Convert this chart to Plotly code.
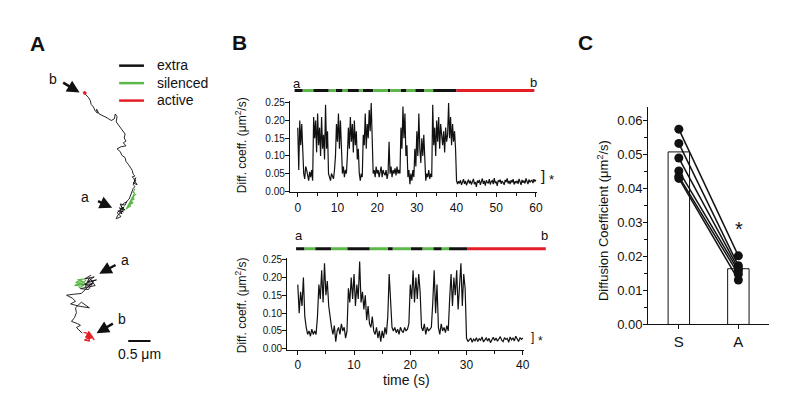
import plotly.graph_objects as go

FONT = "Liberation Sans, Arial, Helvetica, sans-serif"
OFF = 8                      # page body margin of the browser
W, H = 800 - 2 * OFF, 420 - 2 * OFF
BLACK, GREEN, RED = "#111111", "#5cb848", "#e41e26"

# ---------------- Panel A: trajectories (micrometres) ----------------
trajA_black_x = [1.91,1.98,2.02,2.04,2.09,2.13,2.18,2.16,2.22,2.31,2.40,2.49,2.56,2.58,2.62,2.60,2.64,2.71,2.76,2.80,
                 2.78,2.82,2.76,2.82,2.71,2.62,2.69,2.73,2.80,2.82,2.87,2.91,2.96,2.98,3.02,2.96,3.04,2.98,3.07,3.00,
                 3.04,2.98,3.02,2.98,2.93,2.89,2.82,2.78,2.71,2.80,2.67,2.76,2.64,2.73,2.69,2.78,2.62,2.71,2.60,2.64,
                 2.76,2.69,2.80,2.84]
trajA_black_y = [7.27,7.20,7.13,7.04,6.98,6.89,6.84,6.93,6.82,6.78,6.73,6.67,6.71,6.82,6.76,6.64,6.58,6.49,6.42,6.36,
                 6.27,6.20,6.16,6.09,6.07,6.02,5.96,5.87,5.82,5.73,5.67,5.60,5.53,5.44,5.40,5.38,5.29,5.24,5.20,5.31,
                 5.36,5.20,5.16,5.11,4.98,4.87,4.80,4.78,4.71,4.62,4.67,4.58,4.60,4.53,4.64,4.69,4.56,4.47,4.42,4.51,
                 4.60,4.76,4.73,4.82]
trajA_green_x = [3.02,2.98,3.04,2.96,3.00,2.91,2.98,2.87,2.93,2.84,2.91,3.00,2.96,2.89,2.82,2.93,3.02]
trajA_green_y = [5.11,5.02,4.98,4.91,4.87,4.82,4.78,4.73,4.71,4.67,4.76,4.93,4.82,4.69,4.64,4.87,5.02]
trajA_red_x = [1.87,1.91,1.89,1.93,1.87,1.91,1.89]
trajA_red_y = [7.33,7.27,7.31,7.29,7.29,7.33,7.27]

trajB_black_x = [2.04,1.89,2.11,1.96,2.16,1.84,2.07,1.91,2.00,2.13,1.80,1.98,2.09,1.87,1.93,1.82,1.64,1.49,1.62,1.69,
                 1.58,1.76,2.00,1.82,1.69,1.71,1.67,1.60,1.73,1.80,1.71,1.78,1.84]
trajB_black_y = [3.13,3.04,3.09,2.98,3.02,2.91,2.93,2.87,3.07,2.89,2.82,2.80,2.98,2.76,2.84,2.71,2.69,2.67,2.60,2.53,
                 2.47,2.42,2.38,2.51,2.38,2.27,2.16,2.07,2.02,1.98,1.93,1.87,1.80]
trajB_green_x = [1.73,1.87,1.69,1.91,1.76,1.84,1.67,1.89,1.78,1.71,1.82,1.93]
trajB_green_y = [3.02,3.04,2.96,2.98,2.91,3.00,2.89,2.91,2.84,2.98,2.93,3.02]
trajB_red_x = [1.87,2.04,1.91,2.09,1.96,2.00,1.89,2.07,1.93,2.02,1.98,2.11]
trajB_red_y = [1.82,1.78,1.71,1.69,1.80,1.62,1.64,1.73,1.76,1.67,1.84,1.64]

scalebar_start = 2.87
scalebar_len = 0.5
scalebar_y = 1.62

legend_names = ["extra", "silenced", "active"]

# ---------------- Panel B: diffusion coefficient traces ----------------
dt = 0.25
top_diff = [
    0.18,0.06,0.20,0.13, 0.19,0.10,0.05,0.035, 0.07,0.06,0.045,0.03, 0.055,0.04,0.06,0.03,
    0.21,0.15,0.20,0.11, 0.22,0.13,0.18,0.10, 0.21,0.12,0.16,0.09, 0.245,0.12,0.17,0.05,
    0.04,0.03,0.05,0.04, 0.035,0.06,0.10,0.19, 0.14,0.22,0.12,0.20, 0.10,0.05,0.07,0.04,
    0.06,0.05,0.10,0.18, 0.12,0.21,0.14,0.19, 0.11,0.20,0.13,0.17, 0.09,0.12,0.05,0.03,
    0.05,0.04,0.16,0.13, 0.22,0.12,0.19,0.15, 0.23,0.17,0.25,0.14, 0.05,0.06,0.04,0.07,
    0.05,0.06,0.04,0.055, 0.07,0.04,0.06,0.05, 0.045,0.06,0.035,0.05, 0.14,0.05,0.07,0.04,
    0.06,0.05,0.065,0.045, 0.07,0.05,0.06,0.05, 0.18,0.12,0.24,0.15, 0.22,0.10,0.13,0.04,
    0.06,0.02,0.05,0.03, 0.06,0.04,0.12,0.07, 0.17,0.10,0.22,0.12, 0.08,0.15,0.10,0.16,
    0.09,0.03,0.05,0.04, 0.06,0.035,0.05,0.04, 0.245,0.13,0.18,0.10, 0.20,0.14,0.21,0.12,
    0.19,0.15,0.13,0.17, 0.11,0.18,0.14,0.16, 0.25,0.15,0.21,0.13, 0.19,0.14,0.17,0.12,
    0.03,0.02,0.028,0.022, 0.031,0.018,0.026,0.034, 0.021,0.029,0.017,0.027, 0.033,0.022,0.03,0.019,
    0.028,0.035,0.02,0.026, 0.012,0.03,0.024,0.032, 0.018,0.027,0.036,0.021, 0.029,0.016,0.031,0.025,
    0.022,0.034,0.019,0.028, 0.03,0.02,0.037,0.023, 0.027,0.015,0.031,0.026, 0.033,0.021,0.029,0.024,
    0.018,0.032,0.026,0.036, 0.022,0.029,0.02,0.031, 0.025,0.034,0.019,0.028, 0.023,0.03,0.021,0.035,
    0.027,0.018,0.032,0.024, 0.03,0.022,0.036,0.026, 0.02,0.033,0.025,0.029, 0.031,0.023,0.034,0.028,
    0.032]
bot_diff = [
    0.18,0.10,0.16,0.12, 0.20,0.09,0.06,0.04, 0.05,0.035,0.055,0.04, 0.05,0.04,0.09,0.18,
    0.14,0.22,0.13,0.24, 0.15,0.19,0.12,0.08, 0.06,0.04,0.065,0.02, 0.05,0.06,0.04,0.07,
    0.05,0.06,0.03,0.05, 0.17,0.13,0.20,0.14, 0.21,0.12,0.18,0.14, 0.245,0.13,0.16,0.11,
    0.15,0.08,0.12,0.07, 0.06,0.09,0.05,0.04, 0.06,0.03,0.05,0.02, 0.05,0.03,0.06,0.04,
    0.09,0.21,0.15,0.06, 0.05,0.06,0.045,0.055, 0.04,0.06,0.05,0.045, 0.06,0.05,0.055,0.07,
    0.18,0.14,0.22,0.13, 0.20,0.14,0.21,0.16, 0.06,0.05,0.07,0.04, 0.06,0.05,0.055,0.06,
    0.13,0.22,0.10,0.18, 0.06,0.04,0.07,0.05, 0.06,0.045,0.065,0.05, 0.14,0.21,0.12,0.20,
    0.15,0.22,0.11,0.18, 0.24,0.12,0.21,0.17, 0.03,0.02,0.025,0.03, 0.018,0.027,0.022,0.031,
    0.02,0.028,0.024,0.033, 0.019,0.026,0.03,0.022, 0.029,0.017,0.027,0.032, 0.023,0.03,0.021,0.028,
    0.034,0.024,0.02,0.031, 0.026,0.029,0.018,0.033, 0.025,0.03,0.022,0.035, 0.027,0.02,0.031,0.026,
    0.03]
top_time = [i * dt for i in range(len(top_diff))]
bot_time = [i * dt for i in range(len(bot_diff))]

top_seg_edges = [-0.8, 1.25, 3.9, 7.8, 9.6, 11.3, 12.5, 15.4, 16.4, 19.0, 22.7, 23.3, 25.9, 27.4, 29.6, 31.9, 34.1, 40.0, 59.6]
top_seg_state = ["extra","silenced","extra","silenced","extra","silenced","extra","silenced","extra",
                 "silenced","extra","silenced","extra","silenced","extra","silenced","extra","active"]
bot_seg_edges = [-0.3, 1.2, 3.1, 5.9, 8.8, 12.8, 16.0, 16.9, 20.1, 22.2, 24.1, 25.6, 26.9, 30.1, 44.1]
bot_seg_state = ["extra","silenced","extra","silenced","extra","silenced","extra","silenced","extra",
                 "silenced","extra","silenced","extra","active"]

# ---------------- Panel C ----------------
conditions = ["S", "A"]
bar_means = [0.0508, 0.0164]
cell_S = [0.0575, 0.0533, 0.0490, 0.0452, 0.0436, 0.0430]
cell_A = [0.0202, 0.0173, 0.0165, 0.0158, 0.0148, 0.0131]

state_color = {"extra": BLACK, "silenced": GREEN, "active": RED}


def px(x):
    return (x - OFF) / W


def py(y):
    return 1 - (y - OFF) / H


fig = go.Figure()

# Panel A trajectories
for xs, ys, col, w in [
    (trajA_black_x, trajA_black_y, BLACK, 0.9), (trajA_green_x, trajA_green_y, GREEN, 1.1),
    (trajA_red_x, trajA_red_y, RED, 2.2),
    (trajB_black_x, trajB_black_y, BLACK, 0.9), (trajB_green_x, trajB_green_y, GREEN, 1.1),
    (trajB_red_x, trajB_red_y, RED, 1.3)]:
    fig.add_trace(go.Scatter(x=xs, y=ys, mode="lines", line=dict(color=col, width=w),
                             xaxis="x", yaxis="y", showlegend=False, hoverinfo="skip"))
# scale bar
fig.add_trace(go.Scatter(x=[scalebar_start, scalebar_start + scalebar_len], y=[scalebar_y, scalebar_y],
                         mode="lines", line=dict(color=BLACK, width=2), xaxis="x", yaxis="y",
                         showlegend=False, hoverinfo="skip"))


def seg_trace(edges, states, state, xa, ya):
    xs, ys = [], []
    for i, s in enumerate(states):
        if s == state:
            xs += [edges[i], edges[i + 1], None]
            ys += [0.5, 0.5, None]
    return go.Scatter(x=xs, y=ys, mode="lines", line=dict(color=state_color[state], width=3),
                      xaxis=xa, yaxis=ya, showlegend=False, hoverinfo="skip")


# Panel B top
fig.add_trace(go.Scatter(x=top_time, y=top_diff, mode="lines", line=dict(color=BLACK, width=1.2),
                         xaxis="x2", yaxis="y2", showlegend=False))
for st in ["extra", "silenced", "active"]:
    fig.add_trace(seg_trace(top_seg_edges, top_seg_state, st, "x2", "y5"))
# Panel B bottom
fig.add_trace(go.Scatter(x=bot_time, y=bot_diff, mode="lines", line=dict(color=BLACK, width=1.2),
                         xaxis="x3", yaxis="y3", showlegend=False))
for st in ["extra", "silenced", "active"]:
    fig.add_trace(seg_trace(bot_seg_edges, bot_seg_state, st, "x6", "y6"))

# Panel C
fig.add_trace(go.Bar(x=conditions, y=bar_means, width=0.36,
                     marker=dict(color="white", line=dict(color=BLACK, width=1)),
                     xaxis="x4", yaxis="y4", showlegend=False))
pair_x, pair_y = [], []
for s_val, a_val in zip(cell_S, cell_A):
    pair_x += [conditions[0], conditions[1], None]
    pair_y += [s_val, a_val, None]
fig.add_trace(go.Scatter(x=pair_x, y=pair_y, mode="lines+markers", line=dict(color=BLACK, width=1.5),
                         marker=dict(color=BLACK, size=9), xaxis="x4", yaxis="y4", showlegend=False))

axis_common = dict(showline=True, linecolor=BLACK, linewidth=1, ticks="outside", tickcolor=BLACK,
                   ticklen=4, showgrid=False, zeroline=False, fixedrange=True)

fig.update_layout(
    width=W, height=H, margin=dict(l=0, r=0, t=0, b=0),
    paper_bgcolor="white", plot_bgcolor="white",
    font=dict(family=FONT, color=BLACK),
    showlegend=False,
    xaxis=dict(domain=[0, px(200)], range=[OFF / 45, 200 / 45], visible=False, fixedrange=True),
    yaxis=dict(domain=[0, 1], range=[OFF / 45, (420 - OFF) / 45], visible=False, fixedrange=True),
    xaxis2=dict(domain=[px(292), px(541)], range=[-2, 60.25], anchor="y2", tickvals=[0, 10, 20, 30, 40, 50, 60],
                tickfont=dict(size=12), minor=dict(dtick=5, tick0=0, ticks="outside", ticklen=3, tickcolor=BLACK),
                **axis_common),
    yaxis2=dict(domain=[py(194), py(100)], range=[-0.0036, 0.2547], anchor="x2", dtick=0.05, tick0=0,
                tickformat=".2f", tickfont=dict(size=10), ticklabelstandoff=-2, **axis_common),
    yaxis5=dict(domain=[py(98), py(80)], range=[0, 1], anchor="x2", visible=False, fixedrange=True),
    xaxis3=dict(domain=[px(289.3), px(528)], range=[-1.89, 40.22], anchor="y3", tickvals=[0, 10, 20, 30, 40],
                tickfont=dict(size=12), minor=dict(dtick=5, tick0=0, ticks="outside", ticklen=3, tickcolor=BLACK),
                **axis_common),
    yaxis3=dict(domain=[py(356), py(262)], range=[-0.0027, 0.2535], anchor="x3", dtick=0.05, tick0=0,
                tickformat=".2f", tickfont=dict(size=10), ticklabelstandoff=-2, **axis_common),
    xaxis6=dict(domain=[px(289.3), px(560)], range=[-1.89, 45.88], anchor="y6", visible=False, fixedrange=True),
    yaxis6=dict(domain=[py(261), py(243)], range=[0, 1], anchor="x6", visible=False, fixedrange=True),
    xaxis4=dict(domain=[px(653), px(775)], type="category", range=[-0.517, 1.517], anchor="y4",
                tickfont=dict(size=15), **axis_common),
    yaxis4=dict(domain=[py(330), py(106)], range=[0, 0.064], anchor="x4", dtick=0.01, tick0=0,
                tickformat=".2f", tickfont=dict(size=13), ticklabelstandoff=-2,
                minor=dict(dtick=0.005, tick0=0, ticks="outside", ticklen=3, tickcolor=BLACK), **axis_common),
)

ann = []
shapes = []


def paper_text(text, x, y, size, bold=False, angle=0, xanchor="center"):
    ann.append(dict(text=("<b>%s</b>" % text) if bold else text, x=px(x), y=py(y), xref="paper", yref="paper",
                    showarrow=False, font=dict(size=size, family=FONT, color=BLACK), textangle=angle,
                    xanchor=xanchor, yanchor="middle"))


# panel letters
paper_text("A", 38, 40, 21, bold=True)
paper_text("B", 241, 39, 21, bold=True)
paper_text("C", 590, 39, 21, bold=True)

# legend of panel A (swatch + label)
for i, name in enumerate(legend_names):
    yy = 63.3 + 18 * i
    shapes.append(dict(type="line", xref="paper", yref="paper", x0=px(120), x1=px(145), y0=py(yy), y1=py(yy),
                       line=dict(color=state_color[name], width=2.5)))
    paper_text(name, 156, yy - 0.5, 14, xanchor="left")

# panel A arrows and labels
for tail, head, lab, labpos in [
    ((1.38, 7.56), (1.78, 7.31), "b", (1.18, 7.62)),
    ((2.16, 4.84), (2.51, 4.67), "a", (1.91, 4.93)),
    ((2.62, 3.38), (2.22, 3.16), "a", (2.80, 3.47)),
    ((2.56, 2.04), (2.16, 1.80), "b", (2.74, 2.13)),
]:
    ann.append(dict(x=head[0], y=head[1], ax=tail[0], ay=tail[1], xref="x", yref="y", axref="x", ayref="y",
                    text="", showarrow=True, arrowhead=2, arrowsize=1, arrowwidth=2.5, arrowcolor=BLACK))
    ann.append(dict(x=labpos[0], y=labpos[1], xref="x", yref="y", text=lab, showarrow=False,
                    font=dict(size=14, family=FONT, color=BLACK), xanchor="center", yanchor="middle"))
ann.append(dict(x=scalebar_start + scalebar_len / 2, y=scalebar_y - 0.29, xref="x", yref="y", text="0.5 \u03bcm",
                showarrow=False, font=dict(size=14, family=FONT, color=BLACK), xanchor="center", yanchor="middle"))

# panel B bar end labels
for xv, yv, xa, lab in [(-0.3, 82, "x2", "a"), (59.3, 81, "x2", "b"), (0.2, 238, "x6", "a"), (43.8, 238, "x6", "b")]:
    ann.append(dict(x=xv, y=py(yv), xref=xa, yref="paper", text=lab, showarrow=False,
                    xanchor="center", yanchor="middle", font=dict(size=13, family=FONT, color=BLACK)))
paper_text("Diff. coeff. (\u03bcm<sup>2</sup>/s)", 243, 145, 12, angle=-90)
paper_text("Diff. coeff. (\u03bcm<sup>2</sup>/s)", 243, 310, 12, angle=-90)
paper_text("time (s)", 410, 387, 14)
paper_text("]", 547, 177, 15)
paper_text("*", 556, 181, 13)
paper_text("]", 537, 343, 12)
paper_text("*", 545, 347, 12)

# panel C labels
paper_text("Diffusion Coefficient (\u03bcm<sup>2</sup>/s)", 607, 223, 13, angle=-90)
paper_text("*", 745, 232, 20)

fig.update_layout(annotations=ann, shapes=shapes)
fig.write_html("out.html")
